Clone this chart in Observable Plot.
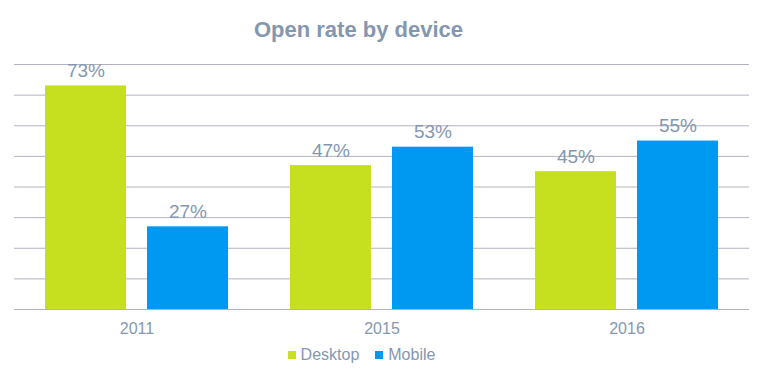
<!DOCTYPE html>
<html><head><meta charset="utf-8">
<script src="https://cdn.jsdelivr.net/npm/d3@7"></script>
<script src="https://cdn.jsdelivr.net/npm/@observablehq/plot@0.6"></script>
<style>
body{margin:0;background:#fff;font-family:"Liberation Sans",Arial,sans-serif}
#wrap{position:relative;width:765px;height:375px;overflow:hidden}
#title{position:absolute;top:17px;left:0;width:717px;text-align:center;font-weight:bold;font-size:22px;color:#8497b0;line-height:26px}
#legend{position:absolute;top:345px;left:0;width:723px;text-align:center;font-size:16px;color:#8497b0;line-height:19px}
#legend span.item{display:inline-block;margin:0 8px}
#legend span.sw{display:inline-block;width:8px;height:8px;margin-right:5px;vertical-align:1px}
#chart{position:absolute;top:0;left:0}
</style></head>
<body>
<div id="wrap">
  <div id="chart"></div>
  <div id="title">Open rate by device</div>
  <div id="legend"></div>
</div>
<script>
const years = ["2011", "2015", "2016"];
const devices = ["Desktop", "Mobile"];
const desktop = [73, 47, 45];
const mobile = [27, 53, 55];
const colors = ["#c6e01f", "#0099f2"];
const yTicks = [0, 10, 20, 30, 40, 50, 60, 70, 80];

const data = [];
years.forEach((yr, i) => {
  data.push({year: yr, device: "Desktop", value: desktop[i]});
  data.push({year: yr, device: "Mobile", value: mobile[i]});
});

const chart = Plot.plot({
  width: 765,
  height: 375,
  marginTop: 64,
  marginBottom: 66,
  marginLeft: 14,
  marginRight: 16,
  style: {fontFamily: '"Liberation Sans", Arial, sans-serif', fontSize: "16px", color: "#8497b0", background: "transparent"},
  fx: {domain: years, paddingInner: 0, paddingOuter: 0, round: false, label: null, tickSize: 0, tickPadding: 13, axis: "bottom"},
  x: {domain: devices, paddingInner: 0.206, paddingOuter: 0.304, round: false, axis: null},
  y: {domain: [0, 80], axis: null},
  color: {domain: devices, range: colors},
  marks: [
    Plot.gridY(yTicks, {stroke: "#b3b3c0", strokeOpacity: 1, strokeWidth: 1}),
    Plot.barY(data, {fx: "year", x: "device", y: "value", fill: "device"}),
    Plot.text(data, {fx: "year", x: "device", y: "value", text: d => d.value + "%", lineAnchor: "bottom", dy: -9, fill: "#8497b0", fontSize: 19})
  ]
});
document.getElementById("chart").appendChild(chart);

const legend = document.getElementById("legend");
devices.forEach((d, i) => {
  const item = document.createElement("span");
  item.className = "item";
  const sw = document.createElement("span");
  sw.className = "sw";
  sw.style.background = colors[i];
  item.appendChild(sw);
  item.appendChild(document.createTextNode(d));
  legend.appendChild(item);
});
</script>
</body></html>
